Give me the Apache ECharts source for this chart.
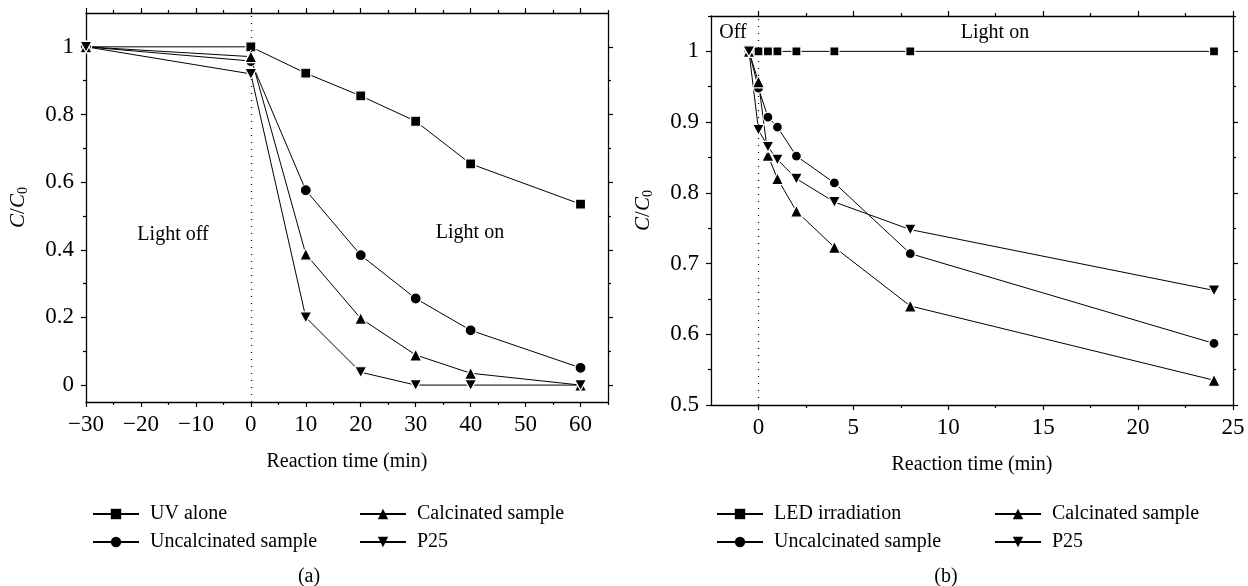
<!DOCTYPE html>
<html>
<head>
<meta charset="utf-8">
<script src="https://cdn.jsdelivr.net/npm/echarts@6/dist/echarts.min.js"></script>
<style>
html,body{margin:0;padding:0;background:#fff;}
#main{width:1248px;height:586px;}
</style>
</head>
<body>
<div id="main"></div>
<script>
// (a) UV lamp
var timeA = [-30, 0, 10, 20, 30, 40, 60];
var uvAlone = [1, 1, 0.922, 0.855, 0.78, 0.654, 0.535];
var uncalcA = [1, 0.958, 0.576, 0.384, 0.256, 0.162, 0.051];
var calcA = [1, 0.971, 0.387, 0.197, 0.089, 0.035, 0];
var p25A = [1, 0.92, 0.2, 0.038, 0, 0, 0];
// (b) LED
var timeB = [-0.5, 0, 0.5, 1, 2, 4, 8, 24];
var ledIrr = [1, 1, 1, 1, 1, 1, 1, 1];
var uncalcB = [1, 0.948, 0.907, 0.893, 0.852, 0.814, 0.714, 0.587];
var calcB = [1, 0.957, 0.853, 0.82, 0.774, 0.723, 0.64, 0.535];
var p25B = [1, 0.889, 0.865, 0.847, 0.82, 0.787, 0.748, 0.662];

// ticks
var xMajorA = [-30, -20, -10, 0, 10, 20, 30, 40, 50, 60];
var xMinorA = [-25, -15, -5, 5, 15, 25, 35, 45, 55, 65];
var yMajorA = [0, 0.2, 0.4, 0.6, 0.8, 1];
var yMinorA = [0.1, 0.3, 0.5, 0.7, 0.9];
var xMajorB = [0, 5, 10, 15, 20, 25];
var xMinorB = [2.5, 7.5, 12.5, 17.5, 22.5];
var yMajorB = [0.5, 0.6, 0.7, 0.8, 0.9, 1];
var yMinorB = [0.55, 0.65, 0.75, 0.85, 0.95, 1.05];

var serif = '"Liberation Serif", "DejaVu Serif", serif';
var downTri = 'path://M0,0L10,0L5,9Z';

var minusFmt = function(v){
    return String(v).replace('-', '\u2212');
};

// one axis of the box; labels only on bottom/left majors
function axis(grid, pos, min, max, ticks, len, withLabel, line){
    var a = {
        type: 'value', gridIndex: grid, position: pos, min: min, max: max,
        splitLine: {show: false},
        axisLine: {show: line, onZero: false, lineStyle: {color: '#000', width: 1.3}},
        axisTick: {show: true, customValues: ticks, length: len, lineStyle: {color: '#000', width: 1.2}},
        axisLabel: {show: false}
    };
    if(withLabel){
        a.axisLabel = {
            show: true, customValues: ticks, formatter: minusFmt,
            margin: (pos == 'left') ? 12 : 11,
            color: '#000', fontFamily: serif, fontSize: 23
        };
    }
    return a;
}

var yName = {
    name: '{i|C}/{i|C}{s|0}',
    nameLocation: 'middle',
    nameGap: 56,
    nameTextStyle: {
        color: '#000', fontFamily: serif, fontSize: 21,
        rich: {
            i: {fontStyle: 'italic', fontFamily: serif, fontSize: 21, color: '#000'},
            s: {fontFamily: serif, fontSize: 14, color: '#000', padding: [10, 0, 0, 0]}
        }
    }
};
var xName = {
    name: 'Reaction time (min)',
    nameLocation: 'middle',
    nameGap: 50,
    nameTextStyle: {color: '#000', fontFamily: serif, fontSize: 20}
};

var xAxes = [
    Object.assign(axis(0, 'bottom', -30, 65, xMajorA, 5, true, true), xName),
    axis(0, 'bottom', -30, 65, xMinorA, 3, false, false),
    axis(0, 'top', -30, 65, xMajorA, 5, false, true),
    axis(0, 'top', -30, 65, xMinorA, 3, false, false),
    Object.assign(axis(1, 'bottom', -2.5, 25, xMajorB, 5, true, true), xName),
    axis(1, 'bottom', -2.5, 25, xMinorB, 3, false, false),
    axis(1, 'top', -2.5, 25, xMajorB, 5, false, true),
    axis(1, 'top', -2.5, 25, xMinorB, 3, false, false)
];
var yAxes = [
    Object.assign(axis(0, 'left', -0.05, 1.1, yMajorA, 5, true, true), yName),
    axis(0, 'left', -0.05, 1.1, yMinorA, 3, false, false),
    axis(0, 'right', -0.05, 1.1, yMajorA, 5, false, true),
    axis(0, 'right', -0.05, 1.1, yMinorA, 3, false, false),
    Object.assign(axis(1, 'left', 0.5, 1.05, yMajorB, 5, true, true), yName),
    axis(1, 'left', 0.5, 1.05, yMinorB, 3, false, false),
    axis(1, 'right', 0.5, 1.05, yMajorB, 5, false, true),
    axis(1, 'right', 0.5, 1.05, yMinorB, 3, false, false)
];

function line(name, xs, ys, symbol, size, xi, yi){
    var pts = [];
    for(var i=0;i<xs.length;i++){
        pts.push([xs[i], ys[i]]);
    }
    return {
        name: name, type: 'line', xAxisIndex: xi, yAxisIndex: yi,
        data: pts, symbol: symbol, symbolSize: size,
        lineStyle: {color: '#000', width: 1},
        itemStyle: {color: '#000', borderColor: '#fff', borderWidth: 1.2}
    };
}

var dotted = function(){
    return {
        silent: true, symbol: ['none', 'none'], label: {show: false},
        lineStyle: {color: '#000', type: [1, 6], width: 1.2},
        data: [{xAxis: 0}]
    };
};

var series = [
    line('UV alone', timeA, uvAlone, 'rect', 10, 0, 0),
    line('Uncalcinated sample', timeA, uncalcA, 'circle', 11, 0, 0),
    line('Calcinated sample', timeA, calcA, 'triangle', 12, 0, 0),
    line('P25', timeA, p25A, downTri, [12, 11], 0, 0),
    line('LED irradiation', timeB, ledIrr, 'rect', 9, 4, 4),
    line('Uncalcinated sample', timeB, uncalcB, 'circle', 10, 4, 4),
    line('Calcinated sample', timeB, calcB, 'triangle', 12, 4, 4),
    line('P25', timeB, p25B, downTri, [12, 11], 4, 4)
];
series[0].markLine = dotted();
series[4].markLine = dotted();

function legendAt(name, left, top){
    return {
        data: [name], left: left, top: top, padding: 0,
        itemWidth: 46, itemHeight: 13, selectedMode: false,
        itemStyle: {borderWidth: 0},
        textStyle: {color: '#000', fontFamily: serif, fontSize: 20, padding: [0, 0, 0, 6]}
    };
}

function txt(s, x, y){
    return {
        type: 'text', x: x, y: y,
        style: {text: s, fill: '#000', font: '20px ' + serif, textAlign: 'center', textVerticalAlign: 'middle'}
    };
}

var chart = echarts.init(document.getElementById('main'));
chart.setOption({
    animation: false,
    backgroundColor: '#fff',
    grid: [
        {left: 86, top: 13, width: 522, height: 389},
        {left: 711, top: 16, width: 522, height: 389}
    ],
    xAxis: xAxes,
    yAxis: yAxes,
    legend: [
        legendAt('UV alone', 92, 504),
        legendAt('Uncalcinated sample', 92, 532),
        legendAt('Calcinated sample', 359, 504),
        legendAt('P25', 359, 532),
        legendAt('LED irradiation', 716, 504),
        legendAt('Uncalcinated sample', 716, 532),
        legendAt('Calcinated sample', 994, 504),
        legendAt('P25', 994, 532)
    ],
    graphic: [
        txt('Light off', 173, 235),
        txt('Light on', 470, 233),
        txt('Off', 733, 33),
        txt('Light on', 995, 33),
        txt('(a)', 309, 577),
        txt('(b)', 946, 577)
    ],
    series: series
});
</script>
</body>
</html>
